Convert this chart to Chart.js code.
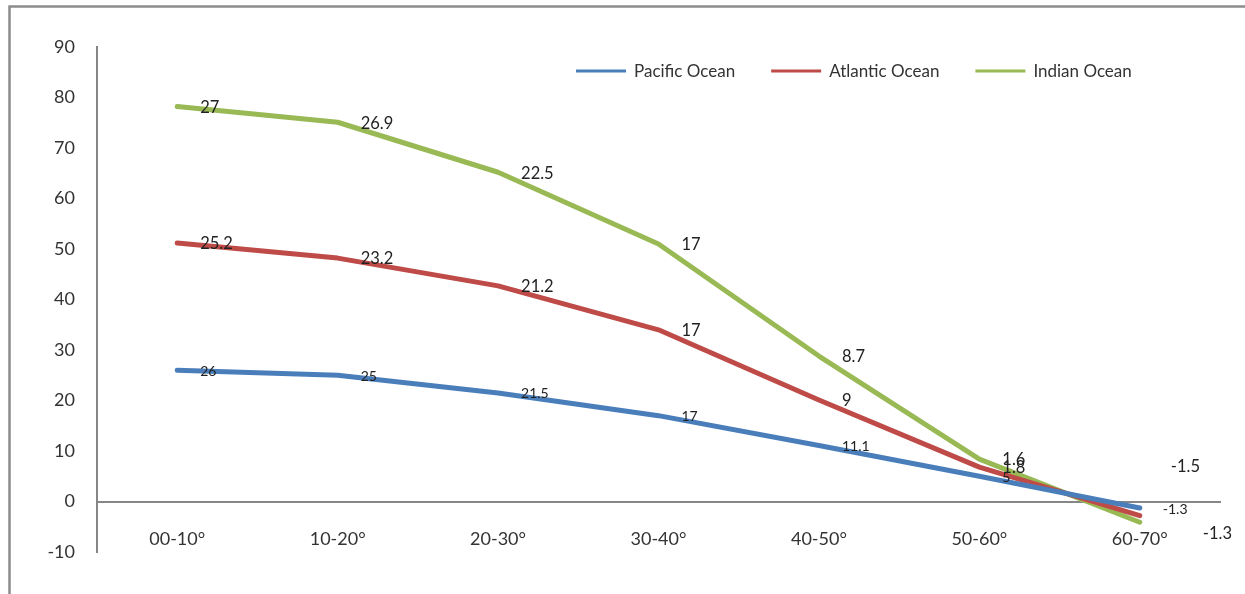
<!DOCTYPE html>
<html>
<head>
<meta charset="utf-8">
<title>Ocean surface temperature by latitude</title>
<script src="https://cdn.jsdelivr.net/npm/chart.js@4.4.1/dist/chart.umd.min.js"></script>
<style>
  html, body { margin: 0; padding: 0; background: #ffffff; }
  #wrap { width: 1245px; height: 594px; position: relative; }
</style>
</head>
<body>
<div id="wrap"><canvas id="chart" width="1245" height="594"></canvas></div>
<script>
// Latitude bands
const categories = ['00-10°', '10-20°', '20-30°', '30-40°', '40-50°', '50-60°', '60-70°'];

// Mean temperature per band (°C), stacked one series on top of the other
const pacific  = [26, 25, 21.5, 17, 11.1, 5, -1.3];
const atlantic = [25.2, 23.2, 21.2, 17, 9, 1.8, -1.5];
const indian   = [27, 26.9, 22.5, 17, 8.7, 1.6, -1.3];

const seriesNames = ['Pacific Ocean', 'Atlantic Ocean', 'Indian Ocean'];
const yTicks = { min: -10, max: 90, step: 10 };

const FONT = 'Lato, "Open Sans", "Liberation Sans", sans-serif';
const TEXT = '#333333';
const AXIS = '#868686';

// Grey frame around the whole chart
const framePlugin = {
  id: 'frame',
  beforeDraw(chart) {
    const ctx = chart.ctx;
    ctx.save();
    ctx.strokeStyle = '#8c8c8c';
    ctx.lineWidth = 2.5;
    ctx.strokeRect(9.5, 6.5, chart.width + 20, chart.height + 20);
    ctx.restore();
  }
};

// Legend row: line sample followed by the series name
const legendPlugin = {
  id: 'lineLegend',
  afterDraw(chart, args, opts) {
    const ctx = chart.ctx;
    ctx.save();
    ctx.font = '17px ' + FONT;
    ctx.textBaseline = 'middle';
    ctx.textAlign = 'left';
    let x = opts.x;
    const y = opts.y;
    chart.data.datasets.forEach(ds => {
      ctx.strokeStyle = ds.borderColor;
      ctx.lineWidth = 3;
      ctx.beginPath();
      ctx.moveTo(x, y);
      ctx.lineTo(x + opts.lineLength, y);
      ctx.stroke();
      x += opts.lineLength + opts.gap;
      ctx.fillStyle = TEXT;
      ctx.fillText(ds.label, x, y + 1);
      x += ctx.measureText(ds.label).width + opts.spacing;
    });
    ctx.restore();
  }
};

// Value labels placed to the right of each point
const valueLabelPlugin = {
  id: 'valueLabels',
  afterDatasetsDraw(chart, args, opts) {
    const ctx = chart.ctx;
    ctx.save();
    ctx.textAlign = 'left';
    ctx.textBaseline = 'middle';
    ctx.fillStyle = '#222222';
    chart.data.datasets.forEach((ds, di) => {
      const meta = chart.getDatasetMeta(di);
      ctx.font = opts.sizes[di] + 'px ' + FONT;
      meta.data.forEach((pt, i) => {
        const shift = (opts.shifts[di] && opts.shifts[di][i]) || [0, 0];
        ctx.fillText(String(ds.data[i]), pt.x + opts.dx + shift[0], pt.y + 1 + shift[1]);
      });
    });
    ctx.restore();
  }
};

const colors = ['#4a7ebb', '#be4b48', '#98b954'];
const values = [pacific, atlantic, indian];

new Chart(document.getElementById('chart'), {
  type: 'line',
  data: {
    labels: categories,
    datasets: values.map((v, i) => ({
      label: seriesNames[i],
      data: v,
      borderColor: colors[i],
      backgroundColor: colors[i],
      borderWidth: 5,
      borderCapStyle: 'round',
      borderJoinStyle: 'round',
      pointRadius: 0,
      pointHoverRadius: 0,
      tension: 0,
      fill: false
    }))
  },
  options: {
    responsive: false,
    animation: false,
    layout: { padding: { top: 47, right: 25, bottom: 42, left: 0 } },
    plugins: {
      legend: { display: false },
      tooltip: { enabled: false },
      lineLegend: { x: 576, y: 71, lineLength: 50, gap: 8, spacing: 36 },
      valueLabels: {
        dx: 23,
        sizes: [14, 16.5, 16.5],
        shifts: { 1: { 6: [8, -50] }, 2: { 6: [40, 10] } }
      }
    },
    scales: {
      x: {
        type: 'category',
        position: { y: 0 },
        offset: true,
        grid: { display: false, drawTicks: false },
        border: { display: true, color: AXIS, width: 2 },
        ticks: { color: TEXT, font: { family: FONT, size: 18 }, padding: 27, maxRotation: 0 }
      },
      y: {
        stacked: true,
        min: yTicks.min,
        max: yTicks.max,
        afterFit(scale) { scale.width = 97; },
        grid: { display: false, drawTicks: false },
        border: { display: true, color: AXIS, width: 2 },
        ticks: { stepSize: yTicks.step, color: TEXT, font: { family: FONT, size: 18 }, padding: 22 }
      }
    }
  },
  plugins: [framePlugin, legendPlugin, valueLabelPlugin]
});
</script>
</body>
</html>
